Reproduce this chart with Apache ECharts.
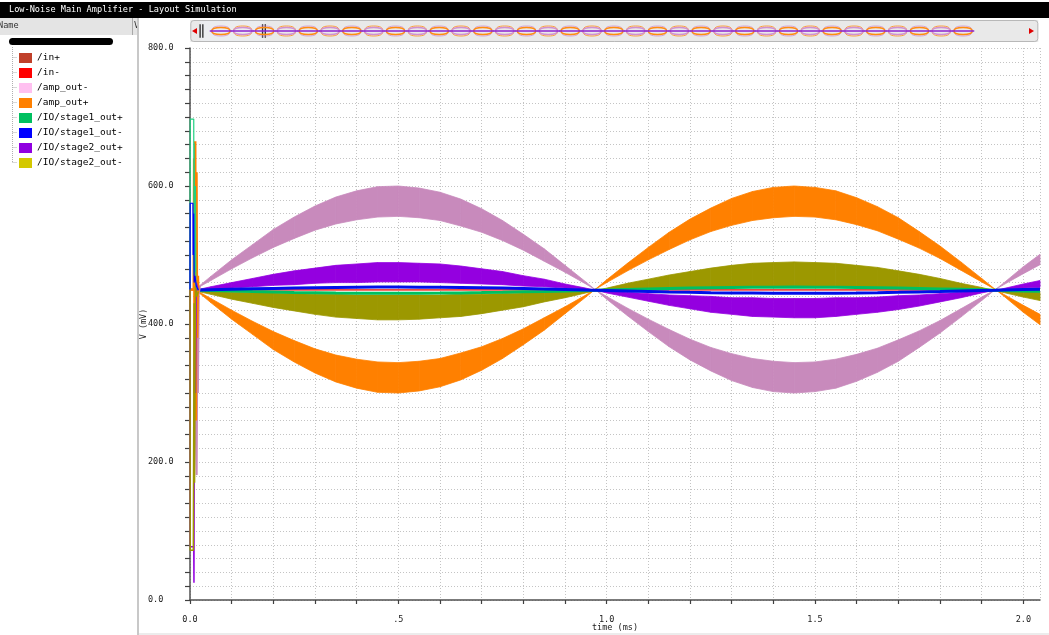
<!DOCTYPE html>
<html>
<head>
<meta charset="utf-8">
<script src="https://cdn.jsdelivr.net/npm/echarts@6/dist/echarts.min.js"></script>
<style>
html,body{margin:0;padding:0;background:#fff;}
#c{width:1049px;height:635px;}
</style>
</head>
<body>
<div id="c"></div>
<script>
// ---------- data ----------
const legendNames = ['/in+', '/in-', '/amp_out-', '/amp_out+', '/IO/stage1_out+', '/IO/stage1_out-', '/IO/stage2_out+', '/IO/stage2_out-'];
const legendColors = ['#c0402a', '#ff0000', '#ffc0f0', '#ff8000', '#00c060', '#0000ff', '#9000e0', '#d4c800'];

const times = [0.02,0.05,0.1,0.15,0.2,0.25,0.3,0.35,0.4,0.45,0.5,0.55,0.6,0.65,0.7,0.75,0.8,0.85,0.9,0.95,0.972,1.0,1.05,1.1,1.15,1.2,1.25,1.3,1.35,1.4,1.45,1.5,1.55,1.6,1.65,1.7,1.75,1.8,1.85,1.9,1.933,1.95,2.0,2.04];

// envelope of each band (mV): lower and upper edge
const ampOutMinusLo = [453,463,480,496,511,524,536,545,551,555,556,554,550,542,533,521,507,491,475,458,450,436,412,389,367,348,332,318,308,302,300,302,307,317,330,346,366,387,410,434,450,456,473,486];
const ampOutMinusHi = [454,469,493,515,537,555,571,584,593,599,600,597,591,581,567,550,530,509,485,461,450,440,423,407,392,378,366,357,350,346,344,345,349,356,365,377,390,405,422,439,450,458,483,501];
const ampOutPlusLo  = [446,431,407,385,363,345,329,316,307,301,300,303,309,319,333,350,370,391,415,439,450,460,477,493,508,522,534,543,550,554,556,555,551,544,535,523,510,495,478,461,450,442,417,399];
const ampOutPlusHi  = [447,437,420,404,389,376,364,355,349,345,344,346,350,358,367,379,393,409,425,442,450,464,488,511,533,552,568,582,592,598,600,598,593,583,570,554,534,513,490,466,450,444,427,414];
const stage2PlusLo  = [449,450,452,454,456,457,459,460,460,461,461,461,460,459,458,457,455,454,452,450,449,445,439,433,427,422,417,414,411,410,409,409,411,414,417,421,426,432,438,445,449,450,452,453];
const stage2PlusHi  = [450,454,460,466,472,477,481,485,487,489,489,488,487,484,480,476,470,465,458,452,449,448,446,444,442,441,440,438,438,437,437,437,438,438,439,441,442,444,446,448,449,451,458,463];
const stage2MinusLo = [447,443,436,430,424,419,414,410,408,406,406,407,409,411,415,420,425,432,438,445,448,449,450,450,451,452,453,453,454,454,454,454,454,453,453,452,451,451,450,449,448,446,439,434];
const stage2MinusHi = [448,447,446,445,445,444,443,443,442,442,442,442,442,443,443,444,445,446,447,448,448,452,459,465,471,476,481,485,488,489,490,489,488,485,482,477,472,466,459,453,448,448,447,446];
// thin stage-1 outputs (mV)
const stage1Minus = [449.1,449.6,450.3,451.0,451.6,452.2,452.6,453.0,453.3,453.5,453.5,453.4,453.2,452.9,452.5,452.0,451.4,450.8,450.1,449.3,449,448.6,447.9,447.2,446.5,445.9,445.4,445.0,444.8,444.6,444.5,444.6,444.7,445.0,445.4,445.9,446.5,447.1,447.8,448.5,449,449.3,450.0,450.5];
const stage1Plus  = [448.9,448.4,447.7,447.0,446.4,445.8,445.4,445.0,444.7,444.5,444.5,444.6,444.8,445.1,445.5,446.0,446.6,447.2,447.9,448.7,449,449.4,450.1,450.8,451.5,452.1,452.6,453.0,453.2,453.4,453.5,453.4,453.3,453.0,452.6,452.1,451.5,450.9,450.2,449.5,449,448.7,448.0,447.5];
// inputs
const inPlus  = [[0, 449.6], [2.04, 449.6]];
const inMinus = [[0, 449.2], [2.04, 449.2]];
// start-up transients [time ms, mV]
const ampOutMinusStart = [[0,450],[0.012,450],[0.014,240],[0.016,181],[0.018,430],[0.019,300],[0.021,445],[0.024,455]];
const ampOutPlusStart  = [[0,450],[0.009,450],[0.010,640],[0.011,300],[0.0125,665],[0.014,260],[0.0155,620],[0.017,380],[0.019,470],[0.02,446]];
const stage1PlusStart  = [[0,450],[0.0005,697],[0.009,697],[0.0095,470],[0.010,662],[0.011,475],[0.013,600],[0.014,455],[0.02,449]];
const stage1MinusStart = [[0,450],[0.0005,575],[0.007,575],[0.0075,500],[0.009,560],[0.010,460],[0.012,470],[0.015,455],[0.02,449]];
const stage2PlusStart  = [[0,450],[0.0005,77],[0.009,77],[0.0095,25],[0.0105,330],[0.012,420],[0.013,300],[0.015,460],[0.02,449]];
const stage2MinusStart = [[0,450],[0.0005,72],[0.008,72],[0.0085,180],[0.010,430],[0.011,170],[0.013,455],[0.016,440],[0.02,447]];
// overview strip of the slider: one entry per half-period lens
const previewLenses = [0,1,2,3,4,5,6,7,8,9,10,11,12,13,14,15,16,17,18,19,20,21,22,23,24,25,26,27,28,29,30,31,32,33,34];

const yTickLabels = ['0.0','200.0','400.0','600.0','800.0'];

// ---------- options ----------
const MONO = 'DejaVu Sans Mono';
function band(name, lo, hi, color) {
  return {
    name, type: 'custom', silent: true, xAxisIndex: 0, yAxisIndex: 0,
    data: times.slice(0, -1).map((t, i) => [t, lo[i], hi[i], times[i + 1], lo[i + 1], hi[i + 1]]),
    encode: { x: [0, 3], y: [1, 2, 4, 5] },
    itemStyle: { color },
    renderItem: function (params, api) {
      const a = api.coord([api.value(0), api.value(1)]);
      const b = api.coord([api.value(0), api.value(2)]);
      const c = api.coord([api.value(3), api.value(5)]);
      const d = api.coord([api.value(3), api.value(4)]);
      return { type: 'polygon', shape: { points: [a, b, c, d] },
        style: { fill: color, stroke: color, lineWidth: 0.8 } };
    },
    z: 2
  };
}
function line(name, data, color, width) {
  return { name, type: 'line', symbol: 'none', silent: true, data,
    lineStyle: { color, width }, itemStyle: { color }, z: 3 };
}
const zip = arr => times.map((t, i) => [t, arr[i]]);

const series = [
  band('/amp_out-', ampOutMinusLo, ampOutMinusHi, '#c88abc'),
  band('/amp_out+', ampOutPlusLo, ampOutPlusHi, '#ff8000'),
  band('/IO/stage2_out+', stage2PlusLo, stage2PlusHi, '#9400e0'),
  band('/IO/stage2_out-', stage2MinusLo, stage2MinusHi, '#9c9800'),
  line('/in+', inPlus, '#c0402a', 1),
  line('/in-', inMinus, '#ff2020', 1),
  line('/IO/stage1_out+', zip(stage1Plus), '#00c060', 3),
  line('/IO/stage1_out-', zip(stage1Minus), '#0010e8', 3),
  line('/amp_out-', ampOutMinusStart, '#c88abc', 2),
  line('/amp_out+', ampOutPlusStart, '#ff8000', 2.5),
  line('/IO/stage2_out+', stage2PlusStart, '#9400e0', 1.5),
  line('/IO/stage2_out-', stage2MinusStart, '#9c9800', 1.5),
  line('/IO/stage1_out+', stage1PlusStart, '#20d080', 1.2),
  line('/IO/stage1_out-', stage1MinusStart, '#0000ff', 1.2),
  { name: 'zoomAxis', type: 'line', xAxisIndex: 1, yAxisIndex: 0, data: [], silent: true },
  { name: 'preview', type: 'custom', xAxisIndex: 2, yAxisIndex: 1, silent: true,
    data: previewLenses.map(k => [k]),
    renderItem: function (params, api) {
      const k = api.value(0);
      const a = api.coord([k + 0.08, 0]), b = api.coord([k + 0.92, 0]);
      const t = api.coord([k + 0.5, 1]), u = api.coord([k + 0.5, -1]);
      const col = (k % 2 === 0) ? '#ff8c10' : '#d090d0';
      const col2 = (k % 2 === 0) ? '#d090d0' : '#ff8c10';
      return { type: 'group', children: [
        { type: 'polygon', shape: { points: [a, t, b, u], smooth: 0.7 },
          style: { fill: 'none', stroke: col2, lineWidth: 1, opacity: 0.8 } },
        { type: 'polygon', shape: { points: [a, [t[0], t[1] + 1.5], b, [u[0], u[1] - 1.5]], smooth: 0.7 },
          style: { fill: 'none', stroke: col, lineWidth: 1.5 } },
        { type: 'line', shape: { x1: a[0] - 2, y1: a[1], x2: b[0] + 2, y2: b[1] },
          style: { stroke: '#8a20d0', lineWidth: 1.5 } }
      ]};
    }, z: 5 }
];

const axisText = { fontFamily: MONO, fontSize: 8.5, color: '#202020' };

const option = {
  animation: false,
  backgroundColor: '#ffffff',
  legend: {
    orient: 'vertical', left: 19, top: 53, padding: 0, icon: 'rect',
    itemWidth: 13, itemHeight: 10, itemGap: 5, selectedMode: false,
    textStyle: { fontFamily: MONO, fontSize: 9.5, color: '#000', lineHeight: 10 },
    data: legendNames.map((n, i) => ({ name: n, itemStyle: { color: legendColors[i] } }))
  },
  grid: [
    { left: 190, right: 9, top: 48, bottom: 35, outerBoundsMode: 'none', containLabel: false },
    { left: 210, right: 75, top: 26, height: 10, outerBoundsMode: 'none', containLabel: false }
  ],
  xAxis: [
    { type: 'value', gridIndex: 0, min: 0, max: 2.04, interval: 0.1, offset: 6,
      name: 'time (ms)', nameLocation: 'middle', nameGap: 17.5, nameMoveOverlap: false, nameTextStyle: axisText,
      axisLine: { show: true, lineStyle: { color: '#505050', width: 1.5 } },
      axisTick: { show: true, length: 4, lineStyle: { color: '#404040', width: 1.2 } },
      axisLabel: Object.assign({ margin: 9, showMaxLabel: false,
        formatter: v => {
          const r = Math.round(v * 10);
          if (Math.abs(v * 10 - r) > 1e-6 || r % 5 !== 0) return '';
          return r === 5 ? '.5' : (r / 10).toFixed(1);
        } }, axisText),
      splitLine: { show: true, lineStyle: { type: [1, 2], color: '#c4c4c4' } } },
    { type: 'value', gridIndex: 0, min: 0, max: 100, show: false },
    { type: 'value', gridIndex: 1, min: 0, max: 35, show: false }
  ],
  yAxis: [
    { type: 'value', gridIndex: 0, min: 0, max: 800, interval: 20, offset: 8,
      name: 'V (mV)', nameLocation: 'middle', nameGap: 34, nameMoveOverlap: false, nameTextStyle: axisText,
      axisLine: { show: true, lineStyle: { color: '#505050', width: 1.5 } },
      axisTick: { show: true, length: 5, lineStyle: { color: '#404040', width: 1.2 } },
      axisLabel: Object.assign({ margin: 34, align: 'left',
        formatter: v => (v % 200 === 0 ? yTickLabels[v / 200] : '') }, axisText),
      splitLine: { show: true, lineStyle: { type: [1, 2], color: '#c4c4c4' } } },
    { type: 'value', gridIndex: 1, min: -1, max: 1, show: false }
  ],
  dataZoom: [{
    type: 'slider', xAxisIndex: 1, filterMode: 'none',
    start: 1.2, end: 8.8, left: 190, right: 11, top: 20, height: 22,
    showDataShadow: false, showDetail: false, brushSelect: false, moveHandleSize: 0,
    backgroundColor: '#e9e9e9', borderColor: '#b8b8b8', borderRadius: 3,
    fillerColor: 'rgba(236,240,244,0.55)',
    handleIcon: 'path://M0,0 L2,0 L2,20 L0,20 Z M4,0 L6,0 L6,20 L4,20 Z',
    handleSize: '62%',
    handleStyle: { color: '#303030', borderColor: '#303030', borderWidth: 0 },
    z: 1
  }],
  graphic: [
    { type: 'rect', left: 0, top: 2, shape: { width: 1049, height: 16 }, style: { fill: '#000' }, z: 10 },
    { type: 'text', left: 9, top: 5, style: { text: 'Low-Noise Main Amplifier - Layout Simulation', fill: '#fff', font: '8.6px ' + MONO }, z: 11 },
    { type: 'rect', left: 0, top: 18, shape: { width: 137, height: 17 }, style: { fill: '#e4e4e4' }, z: 9 },
    { type: 'text', left: -2, top: 21, style: { text: 'Name', fill: '#333', font: '8.6px ' + MONO }, z: 10 },
    { type: 'rect', left: 132, top: 18, shape: { width: 1, height: 17 }, style: { fill: '#a8a8a8' }, z: 10 },
    { type: 'text', left: 134, top: 21, style: { text: 'V', fill: '#333', font: '8.6px ' + MONO }, z: 10 },
    { type: 'rect', left: 9, top: 38, shape: { width: 104, height: 7, r: 3.5 }, style: { fill: '#000' }, z: 10 },
    { type: 'rect', left: 137, top: 18, shape: { width: 2, height: 617 }, style: { fill: '#c8c8c8' }, z: 10 },
    { type: 'rect', left: 139, top: 633, shape: { width: 910, height: 2 }, style: { fill: '#ececec' }, z: 0 },
    { type: 'line', shape: { x1: 12.5, y1: 47, x2: 12.5, y2: 162 }, style: { stroke: '#b0b0b0', lineDash: [1, 1] }, z: 10 },
    { type: 'group', z: 10, children: [57, 72, 87, 102, 117, 132, 147, 162].map(y => ({
        type: 'line', shape: { x1: 12.5, y1: y + 0.5, x2: 17, y2: y + 0.5 }, style: { stroke: '#b0b0b0', lineDash: [1, 1] } })) },
    { type: 'polygon', shape: { points: [[192, 31], [197, 28], [197, 34]] }, style: { fill: '#e00000' }, z: 20 },
    { type: 'polygon', shape: { points: [[1034, 31], [1029, 28], [1029, 34]] }, style: { fill: '#e00000' }, z: 20 }
  ],
  series
};

const chart = echarts.init(document.getElementById('c'), null, { renderer: 'canvas' });
chart.setOption(option);
</script>
</body>
</html>
